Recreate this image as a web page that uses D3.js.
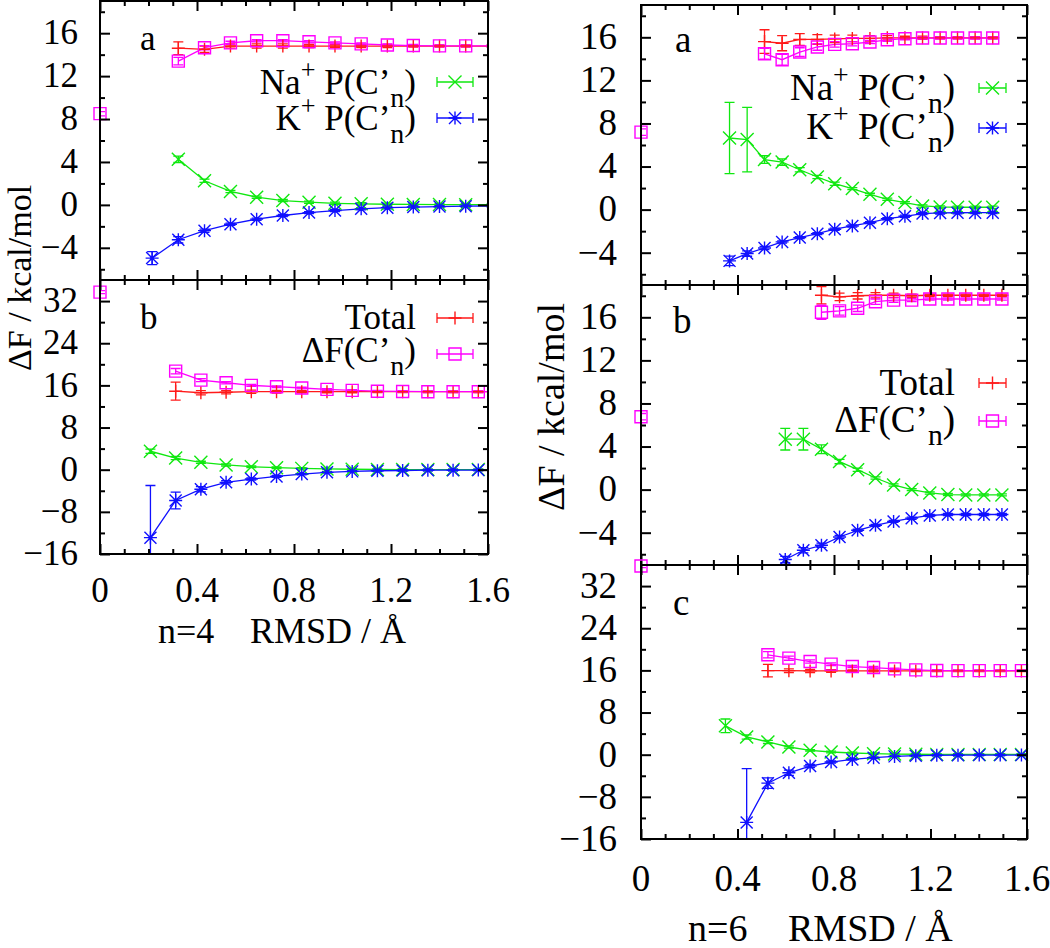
<!DOCTYPE html>
<html><head><meta charset="utf-8">
<script src="https://cdn.jsdelivr.net/npm/d3@7"></script>
<style>body{margin:0;background:#fff}</style>
</head><body>
<svg id="c" width="1050" height="948"></svg>
<script>
// ---------------- DATA ----------------
// n=4, panel a
const n4a_rmsd      = [0.215, 0.323, 0.431, 0.538, 0.646, 0.754, 0.862, 0.969, 1.077, 1.185, 1.292, 1.400, 1.508, 1.615];
const n4a_total     = [null, 14.6, 14.5, 14.8, 14.8, 14.8, 14.8, 14.8, 14.8, 14.8, 14.8, 14.8, 14.8, 14.8];
const n4a_total_err = [null, 0.6, 0.3, 0.2, 0.2, 0.2, 0.15, 0.15, 0.15, 0.15, 0.1, 0.1, 0.1, 0.1];
const n4a_dF        = [null, 13.4, 14.65, 15.1, 15.3, 15.3, 15.2, 15.1, 15.0, 14.9, 14.85, 14.82, 14.82, 14.82];
const n4a_dF_err    = [null, 0.35, 0.2, 0.15, 0.1, 0.1, 0.1, 0.1, 0.1, 0.1, 0.1, 0.1, 0.1, 0.1];
const n4a_na        = [null, 4.25, 2.25, 1.25, 0.72, 0.4, 0.25, 0.15, 0.1, 0.06, 0.04, 0.03, 0.02, 0.02];
const n4a_na_err    = [null, 0.3, 0.15, 0.1, 0.1, 0.1, 0.1, 0.1, 0.1, 0.1, 0.1, 0.1, 0.1, 0.1];
const n4a_k         = [-4.96, -3.25, -2.4, -1.8, -1.33, -0.99, -0.72, -0.53, -0.37, -0.26, -0.2, -0.16, -0.12, -0.1];
const n4a_k_err     = [0.6, 0.3, 0.15, 0.1, 0.1, 0.1, 0.1, 0.1, 0.1, 0.1, 0.1, 0.1, 0.1, 0.1];
const n4a_ref = [8.5], n4a_ref_err = [0.2];

// n=4, panel b
const n4b_rmsd      = [0.208, 0.312, 0.416, 0.520, 0.624, 0.728, 0.832, 0.936, 1.040, 1.144, 1.248, 1.352, 1.456, 1.560, 1.664];
const n4b_total     = [null, 14.9, 14.6, 14.7, 14.8, 14.8, 14.8, 14.8, 14.8, 14.8, 14.8, 14.8, 14.8, 14.8, 14.8];
const n4b_total_err = [null, 1.7, 0.4, 0.3, 0.3, 0.25, 0.2, 0.2, 0.2, 0.15, 0.15, 0.15, 0.15, 0.15, 0.15];
const n4b_dF        = [null, 18.7, 17.0, 16.5, 16.0, 15.75, 15.5, 15.25, 15.05, 14.9, 14.85, 14.8, 14.8, 14.8, 14.8];
const n4b_dF_err    = [null, 0.5, 0.3, 0.2, 0.2, 0.15, 0.15, 0.15, 0.15, 0.15, 0.15, 0.15, 0.15, 0.15, 0.15];
const n4b_na        = [3.5, 2.2, 1.4, 0.9, 0.57, 0.38, 0.25, 0.15, 0.08, 0.05, 0.03, 0.02, 0.02, 0.02, 0.02];
const n4b_na_err    = [0.4, 0.3, 0.2, 0.2, 0.15, 0.15, 0.15, 0.15, 0.15, 0.15, 0.15, 0.15, 0.15, 0.15, 0.15];
const n4b_k         = [-12.9, -5.85, -3.7, -2.4, -1.78, -1.27, -0.83, -0.5, -0.32, -0.2, -0.15, -0.1, -0.1, -0.08, -0.08];
const n4b_k_err     = [9.9, 1.6, 0.5, 0.3, 0.2, 0.2, 0.15, 0.15, 0.15, 0.15, 0.15, 0.15, 0.15, 0.15, 0.15];
const n4b_ref = [33.7], n4b_ref_err = [0.3];

// n=6, panel a
const n6a_rmsd      = [0.367, 0.440, 0.512, 0.585, 0.658, 0.731, 0.803, 0.876, 0.949, 1.021, 1.094, 1.167, 1.240, 1.312, 1.385, 1.458];
const n6a_total     = [null, null, 15.6, 15.45, 15.8, 15.8, 15.85, 15.9, 15.9, 15.95, 15.95, 15.95, 15.95, 15.95, 15.95, 15.95];
const n6a_total_err = [null, null, 1.1, 0.7, 0.55, 0.45, 0.35, 0.3, 0.25, 0.2, 0.15, 0.15, 0.1, 0.1, 0.1, 0.1];
const n6a_dF        = [null, null, 14.47, 13.92, 14.63, 15.1, 15.34, 15.4, 15.56, 15.77, 15.87, 15.93, 15.93, 15.93, 15.93, 15.93];
const n6a_dF_err    = [null, null, 0.5, 0.5, 0.4, 0.3, 0.25, 0.2, 0.15, 0.15, 0.1, 0.1, 0.1, 0.1, 0.1, 0.1];
const n6a_na        = [6.65, 6.5, 4.65, 4.42, 3.7, 3.03, 2.41, 1.95, 1.42, 0.96, 0.65, 0.34, 0.25, 0.22, 0.22, 0.22];
const n6a_na_err    = [3.3, 3.0, 0.35, 0.3, 0.2, 0.15, 0.15, 0.1, 0.1, 0.1, 0.1, 0.1, 0.1, 0.1, 0.1, 0.1];
const n6a_k         = [-4.76, -4.08, -3.56, -3.0, -2.6, -2.23, -1.82, -1.52, -1.21, -0.84, -0.62, -0.37, -0.31, -0.29, -0.28, -0.28];
const n6a_k_err     = [0.45, 0.25, 0.15, 0.1, 0.1, 0.1, 0.1, 0.1, 0.1, 0.1, 0.1, 0.1, 0.1, 0.1, 0.1, 0.1];
const n6a_ref = [7.2], n6a_ref_err = [0.3];

// n=6, panel b
const n6b_rmsd      = [0.598, 0.673, 0.748, 0.823, 0.898, 0.972, 1.047, 1.122, 1.197, 1.272, 1.346, 1.421, 1.496];
const n6b_total     = [null, null, 18.05, 17.9, 18.0, 18.05, 18.05, 18.0, 18.05, 18.05, 18.05, 18.05, 18.05];
const n6b_total_err = [null, null, 0.8, 0.35, 0.3, 0.25, 0.2, 0.15, 0.1, 0.1, 0.1, 0.1, 0.1];
const n6b_dF        = [null, null, 16.47, 16.6, 16.84, 17.45, 17.6, 17.6, 17.7, 17.7, 17.7, 17.7, 17.7];
const n6b_dF_err    = [null, null, 0.65, 0.4, 0.3, 0.25, 0.2, 0.15, 0.1, 0.1, 0.1, 0.1, 0.1];
const n6b_na        = [4.68, 4.68, 3.75, 2.6, 1.85, 1.08, 0.43, 0.0, -0.31, -0.46, -0.49, -0.49, -0.49];
const n6b_na_err    = [1.0, 1.0, 0.4, 0.2, 0.15, 0.1, 0.1, 0.1, 0.1, 0.1, 0.1, 0.1, 0.1];
const n6b_k         = [-6.49, -5.63, -5.17, -4.4, -3.78, -3.32, -2.95, -2.65, -2.4, -2.31, -2.31, -2.31, -2.31];
const n6b_k_err     = [0.3, 0.25, 0.2, 0.15, 0.1, 0.1, 0.1, 0.1, 0.1, 0.1, 0.1, 0.1, 0.1];
const n6b_ref = [6.77], n6b_ref_err = [0.3];

// n=6, panel c
const n6c_rmsd      = [0.350, 0.438, 0.526, 0.613, 0.701, 0.788, 0.876, 0.964, 1.051, 1.139, 1.226, 1.314, 1.402, 1.489, 1.577, 1.664];
const n6c_total     = [null, null, 15.95, 15.95, 15.9, 15.9, 15.9, 15.9, 15.9, 15.9, 15.9, 15.9, 15.9, 15.9, 15.9, 15.9];
const n6c_total_err = [null, null, 1.2, 0.35, 0.3, 0.25, 0.2, 0.2, 0.15, 0.15, 0.15, 0.15, 0.15, 0.15, 0.15, 0.15];
const n6c_dF        = [null, null, 18.96, 18.32, 17.68, 17.18, 16.73, 16.54, 16.28, 16.09, 15.97, 15.95, 15.95, 15.95, 15.95, 15.95];
const n6c_dF_err    = [null, null, 0.6, 0.4, 0.3, 0.25, 0.2, 0.2, 0.15, 0.15, 0.15, 0.15, 0.15, 0.15, 0.15, 0.15];
const n6c_na        = [5.47, 3.37, 2.42, 1.46, 0.83, 0.51, 0.32, 0.19, 0.12, 0.08, 0.06, 0.05, 0.05, 0.05, 0.05, 0.05];
const n6c_na_err    = [1.3, 0.4, 0.3, 0.2, 0.15, 0.15, 0.15, 0.15, 0.15, 0.15, 0.15, 0.15, 0.15, 0.15, 0.15, 0.15];
const n6c_k         = [null, -12.85, -5.4, -3.43, -2.16, -1.4, -0.89, -0.57, -0.32, -0.19, -0.12, -0.1, -0.08, -0.08, -0.08, -0.08];
const n6c_k_err     = [null, 10.2, 1.0, 0.5, 0.3, 0.2, 0.15, 0.15, 0.15, 0.15, 0.15, 0.15, 0.15, 0.15, 0.15, 0.15];
const n6c_ref = [35.8], n6c_ref_err = [0.3];

const refX = [0];
const xTickLabels = ["0", "0.4", "0.8", "1.2", "1.6"];
const xMajor = [0, 0.4, 0.8, 1.2, 1.6];
const xMinor = [0.1,0.2,0.3,0.5,0.6,0.7,0.9,1.0,1.1,1.3,1.4,1.5];
const yMajorSmall = [-4, 0, 4, 8, 12, 16];
const yMinorSmall = [-6, -2, 2, 6, 10, 14, 18];
const yMajorBig = [-16, -8, 0, 8, 16, 24, 32];
const yMinorBig = [-12, -4, 4, 12, 20, 28];

const legNa = [{t:"Na"},{t:"+",sup:1},{t:" P(C\u2019"},{t:"n",sub:1},{t:")"}];
const legK  = [{t:"K"},{t:"+",sup:1},{t:" P(C\u2019"},{t:"n",sub:1},{t:")"}];
const legTot = [{t:"Total"}];
const legDF  = [{t:"\u0394F(C\u2019"},{t:"n",sub:1},{t:")"}];

// ---------------- STYLE ----------------
const C = {total:"#ff1a1a", dF:"#ff00ff", na:"#10e810", k:"#1010ff"};
const FONT = '"Liberation Serif"';

function mk(x, y, e){ return x.map((v,i)=>({x:v, y:y[i], e:e[i]})); }
function seriesSet(x, tot, totE, dF, dFE, na, naE, k, kE, ref, refE){
  return [
    {data: mk(x, tot, totE), color: C.total, marker: "plus"},
    {data: mk(x, dF, dFE), color: C.dF, marker: "square"},
    {data: mk(x, na, naE), color: C.na, marker: "cross"},
    {data: mk(x, k, kE), color: C.k, marker: "star"},
    {data: mk(refX, ref, refE), color: C.dF, marker: "square", noline: true}
  ];
}

const panels = [
  {x0:100, x1:488, y0:1, y1:280, ydom:[-7,19], big:false, fs:35, label:"a", lx:140, ly:50, xlabels:false,
   series: seriesSet(n4a_rmsd, n4a_total, n4a_total_err, n4a_dF, n4a_dF_err, n4a_na, n4a_na_err, n4a_k, n4a_k_err, n4a_ref, n4a_ref_err),
   legend: {tx:416, sx0:437, sx1:473, rows:[{parts:legNa, by:94, sy:82, color:C.na, marker:"cross"},{parts:legK, by:130, sy:118, color:C.k, marker:"star"}]}},
  {x0:100, x1:488, y0:280, y1:554, ydom:[-16,36], big:true, fs:35, label:"b", lx:140, ly:329, xlabels:true, xpad:23,
   series: seriesSet(n4b_rmsd, n4b_total, n4b_total_err, n4b_dF, n4b_dF_err, n4b_na, n4b_na_err, n4b_k, n4b_k_err, n4b_ref, n4b_ref_err),
   legend: {tx:416, sx0:437, sx1:473, rows:[{parts:legTot, by:329, sy:318, color:C.total, marker:"plus"},{parts:legDF, by:362, sy:354, color:C.dF, marker:"square"}]}},
  {x0:641, x1:1027, y0:5, y1:285, ydom:[-7,19], big:false, fs:37, label:"a", lx:675, ly:52, xlabels:false,
   series: seriesSet(n6a_rmsd, n6a_total, n6a_total_err, n6a_dF, n6a_dF_err, n6a_na, n6a_na_err, n6a_k, n6a_k_err, n6a_ref, n6a_ref_err),
   legend: {tx:955, sx0:979, sx1:1006, rows:[{parts:legNa, by:100, sy:88, color:C.na, marker:"cross"},{parts:legK, by:139, sy:128, color:C.k, marker:"star"}]}},
  {x0:641, x1:1027, y0:285, y1:565, ydom:[-7,19], big:false, fs:37, label:"b", lx:673, ly:333, xlabels:false,
   series: seriesSet(n6b_rmsd, n6b_total, n6b_total_err, n6b_dF, n6b_dF_err, n6b_na, n6b_na_err, n6b_k, n6b_k_err, n6b_ref, n6b_ref_err),
   legend: {tx:955, sx0:979, sx1:1006, rows:[{parts:legTot, by:395, sy:383, color:C.total, marker:"plus"},{parts:legDF, by:432, sy:421, color:C.dF, marker:"square"}]}},
  {x0:641, x1:1027, y0:565, y1:839, ydom:[-16,36], big:true, fs:37, label:"c", lx:673, ly:615, xlabels:true, xpad:26,
   series: seriesSet(n6c_rmsd, n6c_total, n6c_total_err, n6c_dF, n6c_dF_err, n6c_na, n6c_na_err, n6c_k, n6c_k_err, n6c_ref, n6c_ref_err),
   legend: null}
];

const svg = d3.select("#c");
const defs = svg.append("defs");

function txt(parent){ return parent.append("text").style("font-family", FONT); }

function markerPath(type){
  const a = 6.5, s = 6;
  switch(type){
    case "plus": return `M${-a},0H${a}M0,${-a}V${a}`;
    case "cross": return `M${-a},${-a}L${a},${a}M${-a},${a}L${a},${-a}`;
    case "star": return `M${-a},0H${a}M0,${-a}V${a}M${-s},${-s}L${s},${s}M${-s},${s}L${s},${-s}`;
    case "square": return `M${-s},${-s}H${s}V${s}H${-s}Z`;
  }
}
function drawMarker(g, type, X, Y, color){
  g.append("path").attr("d", markerPath(type)).attr("transform", `translate(${X},${Y})`)
    .attr("fill","none").attr("stroke", color).attr("stroke-width", 1.4);
  if (type === "star") g.append("circle").attr("cx",X).attr("cy",Y).attr("r",2).attr("fill",color);
}

function addRich(sel, parts, fs){
  let shift = 0;
  parts.forEach(p=>{
    const t = sel.append("tspan").text(p.t);
    if (p.sup){ t.attr("font-size", fs*0.75).attr("dy", -fs*0.42); shift = fs*0.42; }
    else if (p.sub){ t.attr("font-size", fs*0.8).attr("dy", fs*0.36); shift = -fs*0.36; }
    else if (shift){ t.attr("dy", shift); shift = 0; }
  });
}

panels.forEach((p, idx) => {
  const xs = d3.scaleLinear().domain([0, 1.6]).range([p.x0, p.x1]);
  const ys = d3.scaleLinear().domain(p.ydom).range([p.y1, p.y0]);
  const g = svg.append("g");
  const cid = "clip" + idx;
  defs.append("clipPath").attr("id", cid).append("rect")
    .attr("x", p.x0).attr("y", p.y0).attr("width", p.x1 - p.x0).attr("height", p.y1 - p.y0);
  const cg = g.append("g").attr("clip-path", `url(#${cid})`);
  const mg = g.append("g");

  p.series.forEach(s => {
    const pts = s.data.filter(d => d.y != null);
    if (!s.noline){
      cg.append("path").attr("d", d3.line().x(d=>xs(d.x)).y(d=>ys(d.y))(pts))
        .attr("fill","none").attr("stroke", s.color).attr("stroke-width", 1.3);
    }
    pts.forEach(d => {
      if (!d.e) return;
      const X = xs(d.x), Ya = ys(d.y - d.e), Yb = ys(d.y + d.e), w = 5;
      cg.append("path").attr("d", `M${X},${Ya}V${Yb}M${X-w},${Ya}H${X+w}M${X-w},${Yb}H${X+w}`)
        .attr("fill","none").attr("stroke", s.color).attr("stroke-width", 1.3);
    });
    pts.filter(d => d.x <= 1.6 && d.y >= p.ydom[0] && d.y <= p.ydom[1])
      .forEach(d => drawMarker(mg, s.marker, xs(d.x), ys(d.y), s.color));
  });

  // ticks (inward on all sides) via d3 axes; labels drawn as plain text
  const yMaj = p.big ? yMajorBig : yMajorSmall, yMin = p.big ? yMinorBig : yMinorSmall;
  const axes = g.append("g");
  const yfmt = d3.format("d");
  const addAxis = (ax, tr) => axes.append("g").attr("transform", tr).call(ax);
  addAxis(d3.axisLeft(ys).tickValues(yMaj).tickSizeInner(-10).tickSizeOuter(0).tickFormat(""), `translate(${p.x0},0)`);
  addAxis(d3.axisLeft(ys).tickValues(yMin).tickSizeInner(-5).tickSizeOuter(0).tickFormat(""), `translate(${p.x0},0)`);
  addAxis(d3.axisRight(ys).tickValues(yMaj).tickSizeInner(-10).tickSizeOuter(0).tickFormat(""), `translate(${p.x1},0)`);
  addAxis(d3.axisRight(ys).tickValues(yMin).tickSizeInner(-5).tickSizeOuter(0).tickFormat(""), `translate(${p.x1},0)`);
  addAxis(d3.axisBottom(xs).tickValues(xMajor).tickSizeInner(-10).tickSizeOuter(0).tickFormat(""), `translate(0,${p.y1})`);
  addAxis(d3.axisBottom(xs).tickValues(xMinor).tickSizeInner(-5).tickSizeOuter(0).tickFormat(""), `translate(0,${p.y1})`);
  addAxis(d3.axisTop(xs).tickValues(xMajor).tickSizeInner(-10).tickSizeOuter(0).tickFormat(""), `translate(0,${p.y0})`);
  addAxis(d3.axisTop(xs).tickValues(xMinor).tickSizeInner(-5).tickSizeOuter(0).tickFormat(""), `translate(0,${p.y0})`);
  axes.selectAll(".domain").remove();
  axes.selectAll("text").remove();
  axes.selectAll(".tick line").attr("stroke","#000").attr("stroke-width",2);

  // tick labels
  const padY = p.fs > 35 ? 24 : 22;
  yMaj.forEach(v => {
    txt(g).attr("x", p.x0 - padY).attr("y", ys(v)).attr("dy","0.32em").attr("text-anchor","end")
      .attr("font-size", p.fs).text(yfmt(v));
  });
  if (p.xlabels){
    xMajor.forEach((v,i) => {
      txt(g).attr("x", xs(v)).attr("y", p.y1 + p.xpad).attr("dy","0.71em").attr("text-anchor","middle")
        .attr("font-size", p.fs).text(xTickLabels[i]);
    });
  }

  // border
  g.append("rect").attr("x", p.x0).attr("y", p.y0).attr("width", p.x1 - p.x0).attr("height", p.y1 - p.y0)
    .attr("fill","none").attr("stroke","#000").attr("stroke-width",2);

  // panel label
  txt(g).attr("x", p.lx).attr("y", p.ly).attr("font-size", p.fs).text(p.label);

  // legend
  if (p.legend){
    const lg = p.legend;
    lg.rows.forEach(r => {
      const t = txt(g).attr("x", lg.tx).attr("y", r.by).attr("text-anchor","end").attr("font-size", p.fs);
      addRich(t, r.parts, p.fs);
      g.append("path").attr("d", `M${lg.sx0},${r.sy}H${lg.sx1}M${lg.sx0},${r.sy-5}V${r.sy+5}M${lg.sx1},${r.sy-5}V${r.sy+5}`)
        .attr("fill","none").attr("stroke", r.color).attr("stroke-width",1.3);
      drawMarker(g, r.marker, (lg.sx0+lg.sx1)/2, r.sy, r.color);
    });
  }
});

// axis titles
function ytitle(x, y, fs){
  txt(svg).attr("transform", `translate(${x},${y}) rotate(-90)`).attr("text-anchor","middle")
    .attr("font-size", fs).text("\u0394F / kcal/mol");
}
ytitle(31, 278, 34);
ytitle(564, 407, 38);
function xtitle(x1, x2, y, fs, n){
  txt(svg).attr("x", x1).attr("y", y).attr("font-size", fs).text(n);
  txt(svg).attr("x", x2).attr("y", y).attr("font-size", fs).text("RMSD / \u00C5");
}
xtitle(158, 250, 643, 36, "n=4");
xtitle(688, 788, 941, 38, "n=6");
</script>
</body></html>
